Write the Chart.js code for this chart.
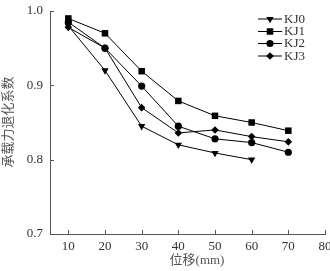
<!DOCTYPE html>
<html>
<head>
<meta charset="utf-8">
<script src="https://cdn.jsdelivr.net/npm/chart.js@4/dist/chart.umd.min.js"></script>
<style>
  html, body { margin: 0; padding: 0; background: #fff; }
  #wrap { width: 330px; height: 271px; position: relative; }
</style>
</head>
<body>
<div id="wrap"><canvas id="c"></canvas></div>
<script>
// 位移 (mm)
const displacements = [10, 20, 30, 40, 50, 60, 70];
const kj0 = [0.980, 0.920, 0.845, 0.820, 0.809, 0.800];
const kj1 = [0.990, 0.970, 0.919, 0.879, 0.859, 0.850, 0.839];
const kj2 = [0.985, 0.950, 0.899, 0.845, 0.828, 0.823, 0.810];
const kj3 = [0.978, 0.950, 0.870, 0.836, 0.840, 0.831, 0.824];
const seriesNames = ['KJ0', 'KJ1', 'KJ2', 'KJ3'];
const xTicks = [10, 20, 30, 40, 50, 60, 70, 80];
const yTicks = [0.7, 0.8, 0.9, 1.0];

const serif = "'Liberation Serif', 'Times New Roman', serif";
const textColor = '#333';
const axisColor = '#555';

const markers = [
    { style: 'triangle', rotation: 180, radius: 4.2 },
    { style: 'rect', rotation: 0, radius: 4.6 },
    { style: 'circle', rotation: 0, radius: 3.6 },
    { style: 'rectRot', rotation: 0, radius: 3.8 }
];

function makeSeries(values, i) {
    return {
        label: seriesNames[i],
        data: values.map((v, k) => ({ x: displacements[k], y: v })),
        borderColor: '#000',
        backgroundColor: '#000',
        borderWidth: 1,
        pointStyle: markers[i].style,
        rotation: markers[i].rotation,
        pointRadius: markers[i].radius,
        pointBorderWidth: 0,
        pointBackgroundColor: '#000',
        tension: 0,
        clip: false
    };
}

// 轴刻度朝内、坐标轴标题、图例
const decorPlugin = {
    id: 'decor',
    afterDraw(chart) {
        const ctx = chart.ctx;
        const xs = chart.scales.x, ys = chart.scales.y;
        const area = chart.chartArea;
        ctx.save();
        ctx.strokeStyle = axisColor;
        ctx.lineWidth = 1;
        ctx.beginPath();
        xTicks.forEach(v => {
            const px = Math.round(xs.getPixelForValue(v)) + 0.5;
            ctx.moveTo(px, area.bottom);
            ctx.lineTo(px, area.bottom - 4);
        });
        yTicks.forEach(v => {
            const py = Math.round(ys.getPixelForValue(v)) + 0.5;
            ctx.moveTo(area.left, py);
            ctx.lineTo(area.left + 4, py);
        });
        ctx.stroke();

        // 坐标轴标题
        ctx.fillStyle = '#555';
        ctx.font = "13px " + serif + ", 'Noto Sans CJK SC'";
        ctx.textAlign = 'center';
        ctx.textBaseline = 'middle';
        ctx.fillText('位移(mm)', 197, 261);
        ctx.save();
        ctx.translate(9, 122);
        ctx.rotate(-Math.PI / 2);
        ctx.fillText('承载力退化系数', 0, 0);
        ctx.restore();

        // 图例
        const rowY = [19, 31.5, 43.5, 56];
        chart.data.datasets.forEach((ds, i) => {
            const y = rowY[i];
            ctx.strokeStyle = '#000';
            ctx.beginPath();
            ctx.moveTo(258, y);
            ctx.lineTo(282, y);
            ctx.stroke();
            ctx.fillStyle = '#000';
            Chart.helpers.drawPoint(ctx, {
                pointStyle: markers[i].style,
                rotation: markers[i].rotation,
                radius: markers[i].radius,
                borderWidth: 0
            }, 270, y);
            ctx.fillStyle = textColor;
            ctx.font = "13px " + serif;
            ctx.textAlign = 'left';
            ctx.textBaseline = 'middle';
            ctx.fillText(ds.label, 284, y + 0.5);
        });
        ctx.restore();
    }
};

new Chart(document.getElementById('c'), {
    type: 'line',
    data: {
        datasets: [kj0, kj1, kj2, kj3].map(makeSeries)
    },
    options: {
        responsive: true,
        maintainAspectRatio: false,
        animation: false,
        layout: { padding: { left: 0, right: 5, top: 11, bottom: 0 } },
        plugins: {
            legend: { display: false },
            tooltip: { enabled: false }
        },
        scales: {
            x: {
                type: 'linear',
                min: 5,
                max: 80,
                afterBuildTicks: s => { s.ticks = xTicks.map(v => ({ value: v })); },
                afterFit: s => { s.height = 37; s.paddingLeft = 0; s.paddingRight = 0; },
                grid: { display: false, drawTicks: false },
                border: { display: true, color: axisColor, width: 1 },
                ticks: {
                    padding: 5,
                    color: textColor,
                    font: { family: serif, size: 13 },
                    maxRotation: 0,
                    callback: v => String(v)
                }
            },
            y: {
                min: 0.7,
                max: 1.0,
                afterBuildTicks: s => { s.ticks = yTicks.map(v => ({ value: v })); },
                afterFit: s => { s.width = 50; s.paddingTop = 0; s.paddingBottom = 0; },
                grid: { display: false, drawTicks: false },
                border: { display: true, color: axisColor, width: 1 },
                ticks: {
                    padding: 7,
                    color: textColor,
                    font: { family: serif, size: 13 },
                    callback: v => Number(v).toFixed(1)
                }
            }
        }
    },
    plugins: [decorPlugin]
});
</script>
</body>
</html>
